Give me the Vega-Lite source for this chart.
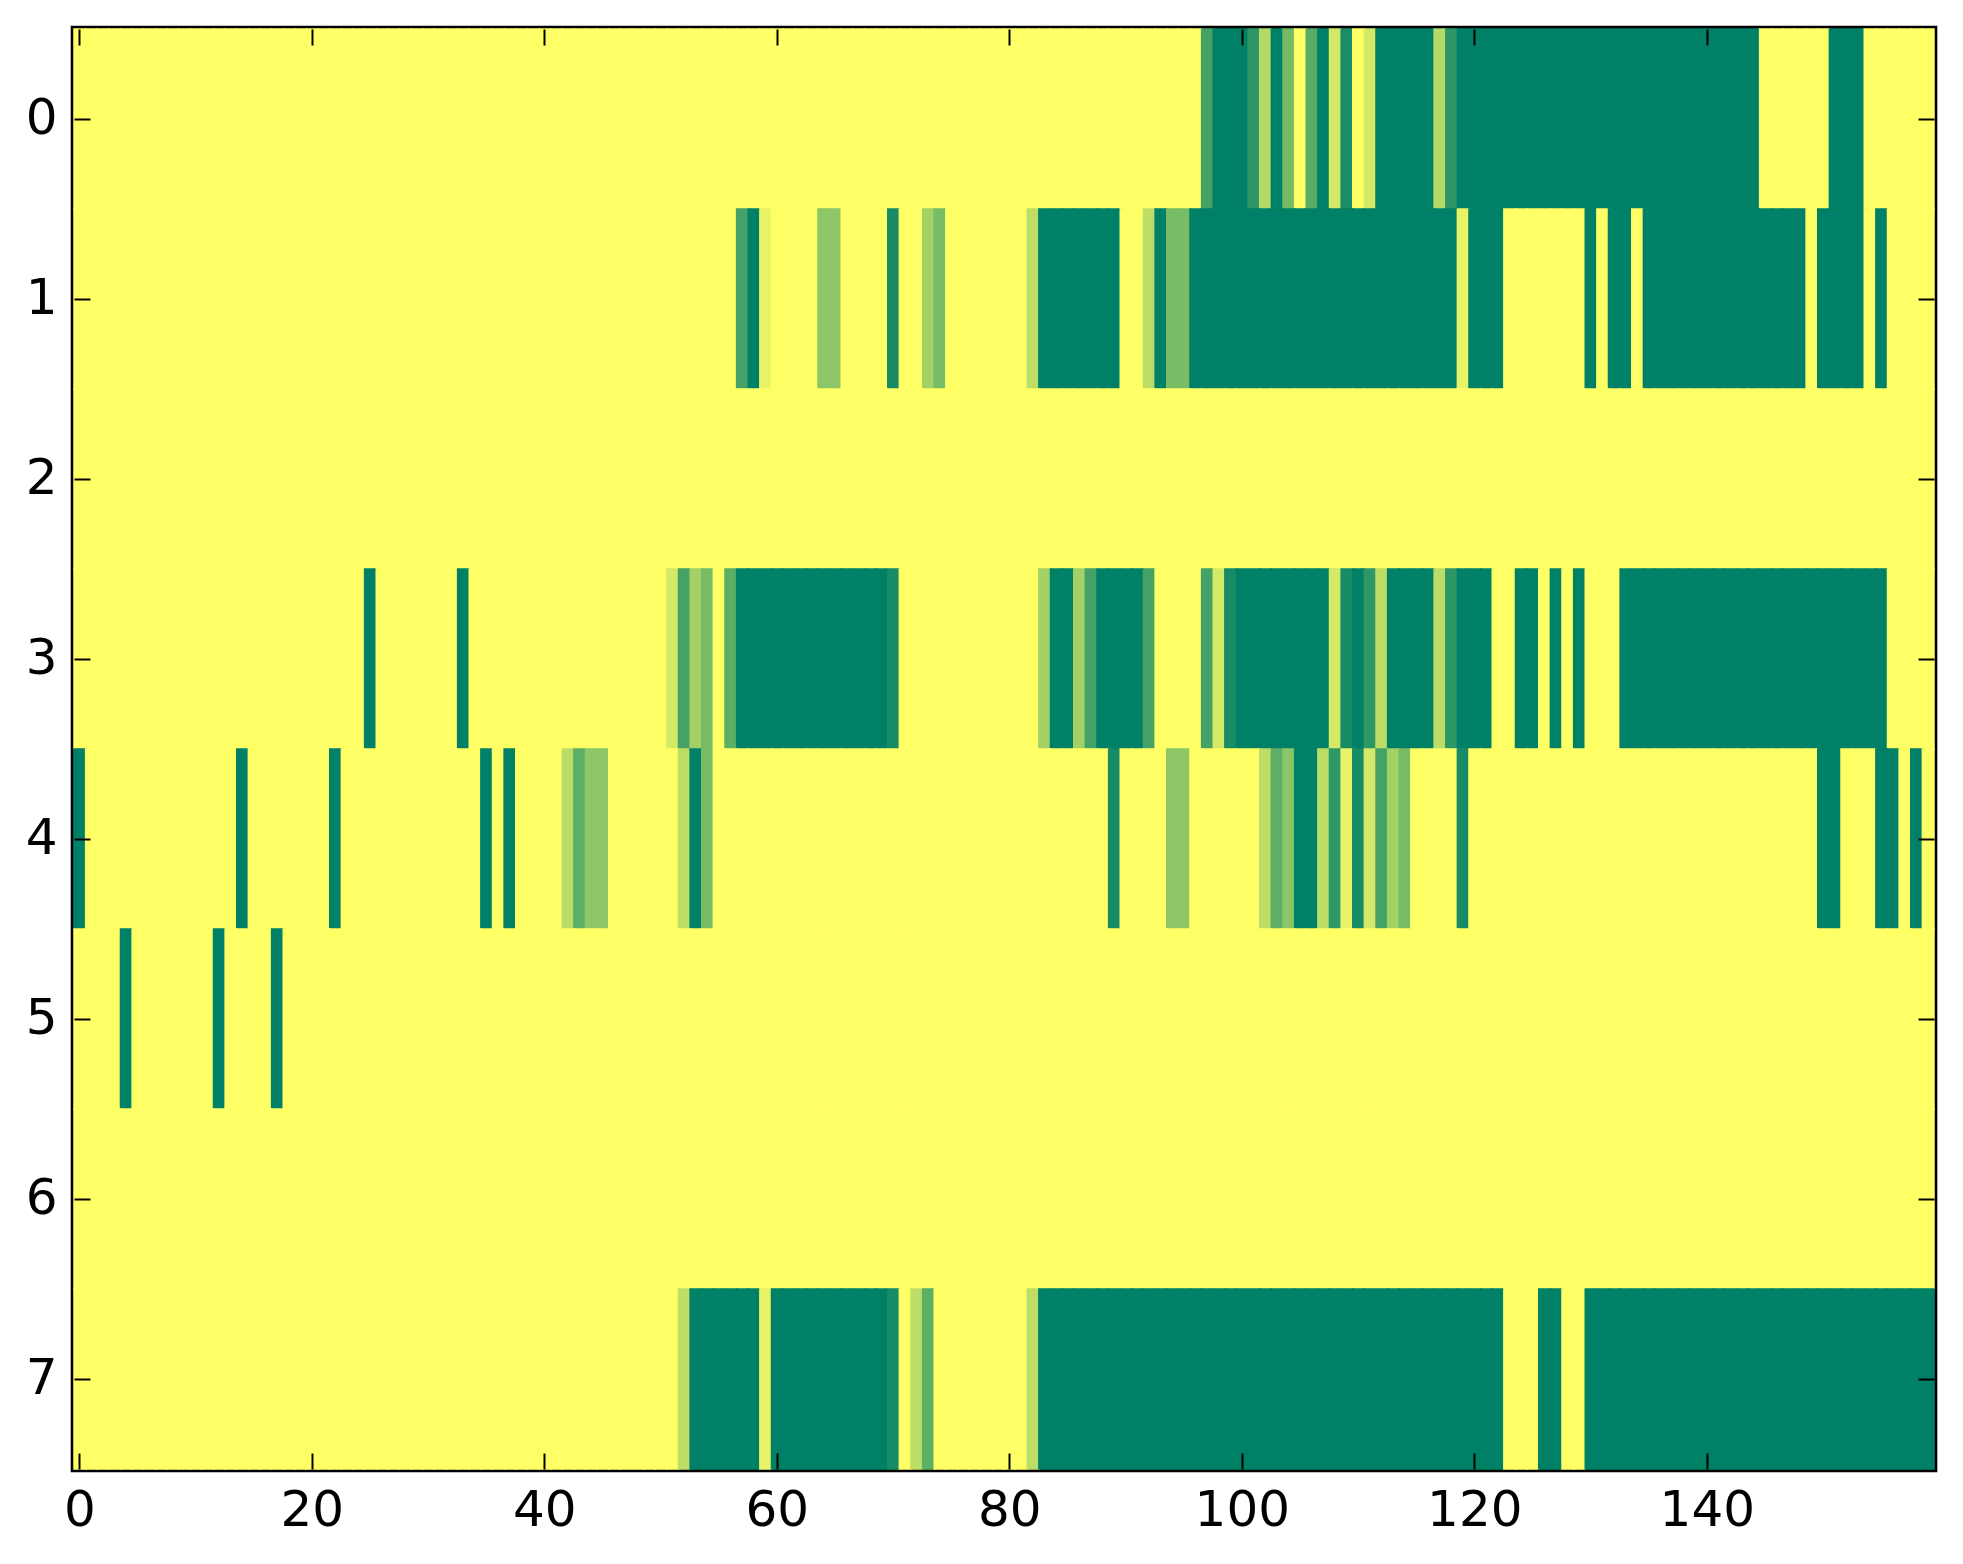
{
  "$schema": "https://vega.github.io/schema/vega-lite/v6.json",
  "width": 1860,
  "height": 1440,
  "autosize": "none",
  "padding": {"left": 74, "top": 29, "right": 29, "bottom": 95},
  "background": "white",
  "data": {
    "values": [
{"r":0,"c":0,"v":0},{"r":0,"c":1,"v":0},{"r":0,"c":2,"v":0},{"r":0,"c":3,"v":0},{"r":0,"c":4,"v":0},{"r":0,"c":5,"v":0},{"r":0,"c":6,"v":0},{"r":0,"c":7,"v":0},{"r":0,"c":8,"v":0},{"r":0,"c":9,"v":0},
{"r":0,"c":10,"v":0},{"r":0,"c":11,"v":0},{"r":0,"c":12,"v":0},{"r":0,"c":13,"v":0},{"r":0,"c":14,"v":0},{"r":0,"c":15,"v":0},{"r":0,"c":16,"v":0},{"r":0,"c":17,"v":0},{"r":0,"c":18,"v":0},{"r":0,"c":19,"v":0},
{"r":0,"c":20,"v":0},{"r":0,"c":21,"v":0},{"r":0,"c":22,"v":0},{"r":0,"c":23,"v":0},{"r":0,"c":24,"v":0},{"r":0,"c":25,"v":0},{"r":0,"c":26,"v":0},{"r":0,"c":27,"v":0},{"r":0,"c":28,"v":0},{"r":0,"c":29,"v":0},
{"r":0,"c":30,"v":0},{"r":0,"c":31,"v":0},{"r":0,"c":32,"v":0},{"r":0,"c":33,"v":0},{"r":0,"c":34,"v":0},{"r":0,"c":35,"v":0},{"r":0,"c":36,"v":0},{"r":0,"c":37,"v":0},{"r":0,"c":38,"v":0},{"r":0,"c":39,"v":0},
{"r":0,"c":40,"v":0},{"r":0,"c":41,"v":0},{"r":0,"c":42,"v":0},{"r":0,"c":43,"v":0},{"r":0,"c":44,"v":0},{"r":0,"c":45,"v":0},{"r":0,"c":46,"v":0},{"r":0,"c":47,"v":0},{"r":0,"c":48,"v":0},{"r":0,"c":49,"v":0},
{"r":0,"c":50,"v":0},{"r":0,"c":51,"v":0},{"r":0,"c":52,"v":0},{"r":0,"c":53,"v":0},{"r":0,"c":54,"v":0},{"r":0,"c":55,"v":0},{"r":0,"c":56,"v":0},{"r":0,"c":57,"v":0},{"r":0,"c":58,"v":0},{"r":0,"c":59,"v":0},
{"r":0,"c":60,"v":0},{"r":0,"c":61,"v":0},{"r":0,"c":62,"v":0},{"r":0,"c":63,"v":0},{"r":0,"c":64,"v":0},{"r":0,"c":65,"v":0},{"r":0,"c":66,"v":0},{"r":0,"c":67,"v":0},{"r":0,"c":68,"v":0},{"r":0,"c":69,"v":0},
{"r":0,"c":70,"v":0},{"r":0,"c":71,"v":0},{"r":0,"c":72,"v":0},{"r":0,"c":73,"v":0},{"r":0,"c":74,"v":0},{"r":0,"c":75,"v":0},{"r":0,"c":76,"v":0},{"r":0,"c":77,"v":0},{"r":0,"c":78,"v":0},{"r":0,"c":79,"v":0},
{"r":0,"c":80,"v":0},{"r":0,"c":81,"v":0},{"r":0,"c":82,"v":0},{"r":0,"c":83,"v":0},{"r":0,"c":84,"v":0},{"r":0,"c":85,"v":0},{"r":0,"c":86,"v":0},{"r":0,"c":87,"v":0},{"r":0,"c":88,"v":0},{"r":0,"c":89,"v":0},
{"r":0,"c":90,"v":0},{"r":0,"c":91,"v":0},{"r":0,"c":92,"v":0},{"r":0,"c":93,"v":0},{"r":0,"c":94,"v":0},{"r":0,"c":95,"v":0},{"r":0,"c":96,"v":0},{"r":0,"c":97,"v":0.73},{"r":0,"c":98,"v":1},{"r":0,"c":99,"v":1},
{"r":0,"c":100,"v":1},{"r":0,"c":101,"v":0.82},{"r":0,"c":102,"v":0.29},{"r":0,"c":103,"v":1},{"r":0,"c":104,"v":0.55},{"r":0,"c":105,"v":0},{"r":0,"c":106,"v":0.65},{"r":0,"c":107,"v":1},{"r":0,"c":108,"v":0.17},{"r":0,"c":109,"v":0.9},
{"r":0,"c":110,"v":0},{"r":0,"c":111,"v":0.17},{"r":0,"c":112,"v":1},{"r":0,"c":113,"v":1},{"r":0,"c":114,"v":1},{"r":0,"c":115,"v":1},{"r":0,"c":116,"v":1},{"r":0,"c":117,"v":0.29},{"r":0,"c":118,"v":0.82},{"r":0,"c":119,"v":1},
{"r":0,"c":120,"v":1},{"r":0,"c":121,"v":1},{"r":0,"c":122,"v":1},{"r":0,"c":123,"v":1},{"r":0,"c":124,"v":1},{"r":0,"c":125,"v":1},{"r":0,"c":126,"v":1},{"r":0,"c":127,"v":1},{"r":0,"c":128,"v":1},{"r":0,"c":129,"v":1},
{"r":0,"c":130,"v":1},{"r":0,"c":131,"v":1},{"r":0,"c":132,"v":1},{"r":0,"c":133,"v":1},{"r":0,"c":134,"v":1},{"r":0,"c":135,"v":1},{"r":0,"c":136,"v":1},{"r":0,"c":137,"v":1},{"r":0,"c":138,"v":1},{"r":0,"c":139,"v":1},
{"r":0,"c":140,"v":1},{"r":0,"c":141,"v":1},{"r":0,"c":142,"v":1},{"r":0,"c":143,"v":1},{"r":0,"c":144,"v":1},{"r":0,"c":145,"v":0},{"r":0,"c":146,"v":0},{"r":0,"c":147,"v":0},{"r":0,"c":148,"v":0},{"r":0,"c":149,"v":0},
{"r":0,"c":150,"v":0},{"r":0,"c":151,"v":1},{"r":0,"c":152,"v":1},{"r":0,"c":153,"v":1},{"r":0,"c":154,"v":0},{"r":0,"c":155,"v":0},{"r":0,"c":156,"v":0},{"r":0,"c":157,"v":0},{"r":0,"c":158,"v":0},{"r":0,"c":159,"v":0},
{"r":1,"c":0,"v":0},{"r":1,"c":1,"v":0},{"r":1,"c":2,"v":0},{"r":1,"c":3,"v":0},{"r":1,"c":4,"v":0},{"r":1,"c":5,"v":0},{"r":1,"c":6,"v":0},{"r":1,"c":7,"v":0},{"r":1,"c":8,"v":0},{"r":1,"c":9,"v":0},
{"r":1,"c":10,"v":0},{"r":1,"c":11,"v":0},{"r":1,"c":12,"v":0},{"r":1,"c":13,"v":0},{"r":1,"c":14,"v":0},{"r":1,"c":15,"v":0},{"r":1,"c":16,"v":0},{"r":1,"c":17,"v":0},{"r":1,"c":18,"v":0},{"r":1,"c":19,"v":0},
{"r":1,"c":20,"v":0},{"r":1,"c":21,"v":0},{"r":1,"c":22,"v":0},{"r":1,"c":23,"v":0},{"r":1,"c":24,"v":0},{"r":1,"c":25,"v":0},{"r":1,"c":26,"v":0},{"r":1,"c":27,"v":0},{"r":1,"c":28,"v":0},{"r":1,"c":29,"v":0},
{"r":1,"c":30,"v":0},{"r":1,"c":31,"v":0},{"r":1,"c":32,"v":0},{"r":1,"c":33,"v":0},{"r":1,"c":34,"v":0},{"r":1,"c":35,"v":0},{"r":1,"c":36,"v":0},{"r":1,"c":37,"v":0},{"r":1,"c":38,"v":0},{"r":1,"c":39,"v":0},
{"r":1,"c":40,"v":0},{"r":1,"c":41,"v":0},{"r":1,"c":42,"v":0},{"r":1,"c":43,"v":0},{"r":1,"c":44,"v":0},{"r":1,"c":45,"v":0},{"r":1,"c":46,"v":0},{"r":1,"c":47,"v":0},{"r":1,"c":48,"v":0},{"r":1,"c":49,"v":0},
{"r":1,"c":50,"v":0},{"r":1,"c":51,"v":0},{"r":1,"c":52,"v":0},{"r":1,"c":53,"v":0},{"r":1,"c":54,"v":0},{"r":1,"c":55,"v":0},{"r":1,"c":56,"v":0},{"r":1,"c":57,"v":0.73},{"r":1,"c":58,"v":1},{"r":1,"c":59,"v":0.09},
{"r":1,"c":60,"v":0},{"r":1,"c":61,"v":0},{"r":1,"c":62,"v":0},{"r":1,"c":63,"v":0},{"r":1,"c":64,"v":0.45},{"r":1,"c":65,"v":0.45},{"r":1,"c":66,"v":0},{"r":1,"c":67,"v":0},{"r":1,"c":68,"v":0},{"r":1,"c":69,"v":0},
{"r":1,"c":70,"v":0.91},{"r":1,"c":71,"v":0},{"r":1,"c":72,"v":0},{"r":1,"c":73,"v":0.36},{"r":1,"c":74,"v":0.53},{"r":1,"c":75,"v":0},{"r":1,"c":76,"v":0},{"r":1,"c":77,"v":0},{"r":1,"c":78,"v":0},{"r":1,"c":79,"v":0},
{"r":1,"c":80,"v":0},{"r":1,"c":81,"v":0},{"r":1,"c":82,"v":0.26},{"r":1,"c":83,"v":1},{"r":1,"c":84,"v":1},{"r":1,"c":85,"v":1},{"r":1,"c":86,"v":1},{"r":1,"c":87,"v":1},{"r":1,"c":88,"v":1},{"r":1,"c":89,"v":1},
{"r":1,"c":90,"v":0},{"r":1,"c":91,"v":0},{"r":1,"c":92,"v":0.26},{"r":1,"c":93,"v":1},{"r":1,"c":94,"v":0.53},{"r":1,"c":95,"v":0.53},{"r":1,"c":96,"v":1},{"r":1,"c":97,"v":1},{"r":1,"c":98,"v":1},{"r":1,"c":99,"v":1},
{"r":1,"c":100,"v":1},{"r":1,"c":101,"v":1},{"r":1,"c":102,"v":1},{"r":1,"c":103,"v":1},{"r":1,"c":104,"v":1},{"r":1,"c":105,"v":1},{"r":1,"c":106,"v":1},{"r":1,"c":107,"v":1},{"r":1,"c":108,"v":1},{"r":1,"c":109,"v":1},
{"r":1,"c":110,"v":1},{"r":1,"c":111,"v":1},{"r":1,"c":112,"v":1},{"r":1,"c":113,"v":1},{"r":1,"c":114,"v":1},{"r":1,"c":115,"v":1},{"r":1,"c":116,"v":1},{"r":1,"c":117,"v":1},{"r":1,"c":118,"v":1},{"r":1,"c":119,"v":0.09},
{"r":1,"c":120,"v":1},{"r":1,"c":121,"v":1},{"r":1,"c":122,"v":1},{"r":1,"c":123,"v":0},{"r":1,"c":124,"v":0},{"r":1,"c":125,"v":0},{"r":1,"c":126,"v":0},{"r":1,"c":127,"v":0},{"r":1,"c":128,"v":0},{"r":1,"c":129,"v":0},
{"r":1,"c":130,"v":1},{"r":1,"c":131,"v":0},{"r":1,"c":132,"v":1},{"r":1,"c":133,"v":1},{"r":1,"c":134,"v":0},{"r":1,"c":135,"v":1},{"r":1,"c":136,"v":1},{"r":1,"c":137,"v":1},{"r":1,"c":138,"v":1},{"r":1,"c":139,"v":1},
{"r":1,"c":140,"v":1},{"r":1,"c":141,"v":1},{"r":1,"c":142,"v":1},{"r":1,"c":143,"v":1},{"r":1,"c":144,"v":1},{"r":1,"c":145,"v":1},{"r":1,"c":146,"v":1},{"r":1,"c":147,"v":1},{"r":1,"c":148,"v":1},{"r":1,"c":149,"v":0},
{"r":1,"c":150,"v":1},{"r":1,"c":151,"v":1},{"r":1,"c":152,"v":1},{"r":1,"c":153,"v":1},{"r":1,"c":154,"v":0},{"r":1,"c":155,"v":1},{"r":1,"c":156,"v":0},{"r":1,"c":157,"v":0},{"r":1,"c":158,"v":0},{"r":1,"c":159,"v":0},
{"r":2,"c":0,"v":0},{"r":2,"c":1,"v":0},{"r":2,"c":2,"v":0},{"r":2,"c":3,"v":0},{"r":2,"c":4,"v":0},{"r":2,"c":5,"v":0},{"r":2,"c":6,"v":0},{"r":2,"c":7,"v":0},{"r":2,"c":8,"v":0},{"r":2,"c":9,"v":0},
{"r":2,"c":10,"v":0},{"r":2,"c":11,"v":0},{"r":2,"c":12,"v":0},{"r":2,"c":13,"v":0},{"r":2,"c":14,"v":0},{"r":2,"c":15,"v":0},{"r":2,"c":16,"v":0},{"r":2,"c":17,"v":0},{"r":2,"c":18,"v":0},{"r":2,"c":19,"v":0},
{"r":2,"c":20,"v":0},{"r":2,"c":21,"v":0},{"r":2,"c":22,"v":0},{"r":2,"c":23,"v":0},{"r":2,"c":24,"v":0},{"r":2,"c":25,"v":0},{"r":2,"c":26,"v":0},{"r":2,"c":27,"v":0},{"r":2,"c":28,"v":0},{"r":2,"c":29,"v":0},
{"r":2,"c":30,"v":0},{"r":2,"c":31,"v":0},{"r":2,"c":32,"v":0},{"r":2,"c":33,"v":0},{"r":2,"c":34,"v":0},{"r":2,"c":35,"v":0},{"r":2,"c":36,"v":0},{"r":2,"c":37,"v":0},{"r":2,"c":38,"v":0},{"r":2,"c":39,"v":0},
{"r":2,"c":40,"v":0},{"r":2,"c":41,"v":0},{"r":2,"c":42,"v":0},{"r":2,"c":43,"v":0},{"r":2,"c":44,"v":0},{"r":2,"c":45,"v":0},{"r":2,"c":46,"v":0},{"r":2,"c":47,"v":0},{"r":2,"c":48,"v":0},{"r":2,"c":49,"v":0},
{"r":2,"c":50,"v":0},{"r":2,"c":51,"v":0},{"r":2,"c":52,"v":0},{"r":2,"c":53,"v":0},{"r":2,"c":54,"v":0},{"r":2,"c":55,"v":0},{"r":2,"c":56,"v":0},{"r":2,"c":57,"v":0},{"r":2,"c":58,"v":0},{"r":2,"c":59,"v":0},
{"r":2,"c":60,"v":0},{"r":2,"c":61,"v":0},{"r":2,"c":62,"v":0},{"r":2,"c":63,"v":0},{"r":2,"c":64,"v":0},{"r":2,"c":65,"v":0},{"r":2,"c":66,"v":0},{"r":2,"c":67,"v":0},{"r":2,"c":68,"v":0},{"r":2,"c":69,"v":0},
{"r":2,"c":70,"v":0},{"r":2,"c":71,"v":0},{"r":2,"c":72,"v":0},{"r":2,"c":73,"v":0},{"r":2,"c":74,"v":0},{"r":2,"c":75,"v":0},{"r":2,"c":76,"v":0},{"r":2,"c":77,"v":0},{"r":2,"c":78,"v":0},{"r":2,"c":79,"v":0},
{"r":2,"c":80,"v":0},{"r":2,"c":81,"v":0},{"r":2,"c":82,"v":0},{"r":2,"c":83,"v":0},{"r":2,"c":84,"v":0},{"r":2,"c":85,"v":0},{"r":2,"c":86,"v":0},{"r":2,"c":87,"v":0},{"r":2,"c":88,"v":0},{"r":2,"c":89,"v":0},
{"r":2,"c":90,"v":0},{"r":2,"c":91,"v":0},{"r":2,"c":92,"v":0},{"r":2,"c":93,"v":0},{"r":2,"c":94,"v":0},{"r":2,"c":95,"v":0},{"r":2,"c":96,"v":0},{"r":2,"c":97,"v":0},{"r":2,"c":98,"v":0},{"r":2,"c":99,"v":0},
{"r":2,"c":100,"v":0},{"r":2,"c":101,"v":0},{"r":2,"c":102,"v":0},{"r":2,"c":103,"v":0},{"r":2,"c":104,"v":0},{"r":2,"c":105,"v":0},{"r":2,"c":106,"v":0},{"r":2,"c":107,"v":0},{"r":2,"c":108,"v":0},{"r":2,"c":109,"v":0},
{"r":2,"c":110,"v":0},{"r":2,"c":111,"v":0},{"r":2,"c":112,"v":0},{"r":2,"c":113,"v":0},{"r":2,"c":114,"v":0},{"r":2,"c":115,"v":0},{"r":2,"c":116,"v":0},{"r":2,"c":117,"v":0},{"r":2,"c":118,"v":0},{"r":2,"c":119,"v":0},
{"r":2,"c":120,"v":0},{"r":2,"c":121,"v":0},{"r":2,"c":122,"v":0},{"r":2,"c":123,"v":0},{"r":2,"c":124,"v":0},{"r":2,"c":125,"v":0},{"r":2,"c":126,"v":0},{"r":2,"c":127,"v":0},{"r":2,"c":128,"v":0},{"r":2,"c":129,"v":0},
{"r":2,"c":130,"v":0},{"r":2,"c":131,"v":0},{"r":2,"c":132,"v":0},{"r":2,"c":133,"v":0},{"r":2,"c":134,"v":0},{"r":2,"c":135,"v":0},{"r":2,"c":136,"v":0},{"r":2,"c":137,"v":0},{"r":2,"c":138,"v":0},{"r":2,"c":139,"v":0},
{"r":2,"c":140,"v":0},{"r":2,"c":141,"v":0},{"r":2,"c":142,"v":0},{"r":2,"c":143,"v":0},{"r":2,"c":144,"v":0},{"r":2,"c":145,"v":0},{"r":2,"c":146,"v":0},{"r":2,"c":147,"v":0},{"r":2,"c":148,"v":0},{"r":2,"c":149,"v":0},
{"r":2,"c":150,"v":0},{"r":2,"c":151,"v":0},{"r":2,"c":152,"v":0},{"r":2,"c":153,"v":0},{"r":2,"c":154,"v":0},{"r":2,"c":155,"v":0},{"r":2,"c":156,"v":0},{"r":2,"c":157,"v":0},{"r":2,"c":158,"v":0},{"r":2,"c":159,"v":0},
{"r":3,"c":0,"v":0},{"r":3,"c":1,"v":0},{"r":3,"c":2,"v":0},{"r":3,"c":3,"v":0},{"r":3,"c":4,"v":0},{"r":3,"c":5,"v":0},{"r":3,"c":6,"v":0},{"r":3,"c":7,"v":0},{"r":3,"c":8,"v":0},{"r":3,"c":9,"v":0},
{"r":3,"c":10,"v":0},{"r":3,"c":11,"v":0},{"r":3,"c":12,"v":0},{"r":3,"c":13,"v":0},{"r":3,"c":14,"v":0},{"r":3,"c":15,"v":0},{"r":3,"c":16,"v":0},{"r":3,"c":17,"v":0},{"r":3,"c":18,"v":0},{"r":3,"c":19,"v":0},
{"r":3,"c":20,"v":0},{"r":3,"c":21,"v":0},{"r":3,"c":22,"v":0},{"r":3,"c":23,"v":0},{"r":3,"c":24,"v":0},{"r":3,"c":25,"v":1},{"r":3,"c":26,"v":0},{"r":3,"c":27,"v":0},{"r":3,"c":28,"v":0},{"r":3,"c":29,"v":0},
{"r":3,"c":30,"v":0},{"r":3,"c":31,"v":0},{"r":3,"c":32,"v":0},{"r":3,"c":33,"v":1},{"r":3,"c":34,"v":0},{"r":3,"c":35,"v":0},{"r":3,"c":36,"v":0},{"r":3,"c":37,"v":0},{"r":3,"c":38,"v":0},{"r":3,"c":39,"v":0},
{"r":3,"c":40,"v":0},{"r":3,"c":41,"v":0},{"r":3,"c":42,"v":0},{"r":3,"c":43,"v":0},{"r":3,"c":44,"v":0},{"r":3,"c":45,"v":0},{"r":3,"c":46,"v":0},{"r":3,"c":47,"v":0},{"r":3,"c":48,"v":0},{"r":3,"c":49,"v":0},
{"r":3,"c":50,"v":0},{"r":3,"c":51,"v":0.17},{"r":3,"c":52,"v":0.73},{"r":3,"c":53,"v":0.36},{"r":3,"c":54,"v":0.53},{"r":3,"c":55,"v":0},{"r":3,"c":56,"v":0.63},{"r":3,"c":57,"v":1},{"r":3,"c":58,"v":1},{"r":3,"c":59,"v":1},
{"r":3,"c":60,"v":1},{"r":3,"c":61,"v":1},{"r":3,"c":62,"v":1},{"r":3,"c":63,"v":1},{"r":3,"c":64,"v":1},{"r":3,"c":65,"v":1},{"r":3,"c":66,"v":1},{"r":3,"c":67,"v":1},{"r":3,"c":68,"v":1},{"r":3,"c":69,"v":1},
{"r":3,"c":70,"v":0.91},{"r":3,"c":71,"v":0},{"r":3,"c":72,"v":0},{"r":3,"c":73,"v":0},{"r":3,"c":74,"v":0},{"r":3,"c":75,"v":0},{"r":3,"c":76,"v":0},{"r":3,"c":77,"v":0},{"r":3,"c":78,"v":0},{"r":3,"c":79,"v":0},
{"r":3,"c":80,"v":0},{"r":3,"c":81,"v":0},{"r":3,"c":82,"v":0},{"r":3,"c":83,"v":0.36},{"r":3,"c":84,"v":1},{"r":3,"c":85,"v":1},{"r":3,"c":86,"v":0.36},{"r":3,"c":87,"v":0.73},{"r":3,"c":88,"v":1},{"r":3,"c":89,"v":1},
{"r":3,"c":90,"v":1},{"r":3,"c":91,"v":1},{"r":3,"c":92,"v":0.73},{"r":3,"c":93,"v":0},{"r":3,"c":94,"v":0},{"r":3,"c":95,"v":0},{"r":3,"c":96,"v":0},{"r":3,"c":97,"v":0.73},{"r":3,"c":98,"v":0.17},{"r":3,"c":99,"v":0.91},
{"r":3,"c":100,"v":1},{"r":3,"c":101,"v":1},{"r":3,"c":102,"v":1},{"r":3,"c":103,"v":1},{"r":3,"c":104,"v":1},{"r":3,"c":105,"v":1},{"r":3,"c":106,"v":1},{"r":3,"c":107,"v":1},{"r":3,"c":108,"v":0.17},{"r":3,"c":109,"v":0.91},
{"r":3,"c":110,"v":1},{"r":3,"c":111,"v":0.82},{"r":3,"c":112,"v":0.26},{"r":3,"c":113,"v":1},{"r":3,"c":114,"v":1},{"r":3,"c":115,"v":1},{"r":3,"c":116,"v":1},{"r":3,"c":117,"v":0.26},{"r":3,"c":118,"v":0.82},{"r":3,"c":119,"v":1},
{"r":3,"c":120,"v":1},{"r":3,"c":121,"v":1},{"r":3,"c":122,"v":0},{"r":3,"c":123,"v":0},{"r":3,"c":124,"v":1},{"r":3,"c":125,"v":1},{"r":3,"c":126,"v":0},{"r":3,"c":127,"v":1},{"r":3,"c":128,"v":0},{"r":3,"c":129,"v":1},
{"r":3,"c":130,"v":0},{"r":3,"c":131,"v":0},{"r":3,"c":132,"v":0},{"r":3,"c":133,"v":1},{"r":3,"c":134,"v":1},{"r":3,"c":135,"v":1},{"r":3,"c":136,"v":1},{"r":3,"c":137,"v":1},{"r":3,"c":138,"v":1},{"r":3,"c":139,"v":1},
{"r":3,"c":140,"v":1},{"r":3,"c":141,"v":1},{"r":3,"c":142,"v":1},{"r":3,"c":143,"v":1},{"r":3,"c":144,"v":1},{"r":3,"c":145,"v":1},{"r":3,"c":146,"v":1},{"r":3,"c":147,"v":1},{"r":3,"c":148,"v":1},{"r":3,"c":149,"v":1},
{"r":3,"c":150,"v":1},{"r":3,"c":151,"v":1},{"r":3,"c":152,"v":1},{"r":3,"c":153,"v":1},{"r":3,"c":154,"v":1},{"r":3,"c":155,"v":1},{"r":3,"c":156,"v":0},{"r":3,"c":157,"v":0},{"r":3,"c":158,"v":0},{"r":3,"c":159,"v":0},
{"r":4,"c":0,"v":1},{"r":4,"c":1,"v":0},{"r":4,"c":2,"v":0},{"r":4,"c":3,"v":0},{"r":4,"c":4,"v":0},{"r":4,"c":5,"v":0},{"r":4,"c":6,"v":0},{"r":4,"c":7,"v":0},{"r":4,"c":8,"v":0},{"r":4,"c":9,"v":0},
{"r":4,"c":10,"v":0},{"r":4,"c":11,"v":0},{"r":4,"c":12,"v":0},{"r":4,"c":13,"v":0},{"r":4,"c":14,"v":1},{"r":4,"c":15,"v":0},{"r":4,"c":16,"v":0},{"r":4,"c":17,"v":0},{"r":4,"c":18,"v":0},{"r":4,"c":19,"v":0},
{"r":4,"c":20,"v":0},{"r":4,"c":21,"v":0},{"r":4,"c":22,"v":1},{"r":4,"c":23,"v":0},{"r":4,"c":24,"v":0},{"r":4,"c":25,"v":0},{"r":4,"c":26,"v":0},{"r":4,"c":27,"v":0},{"r":4,"c":28,"v":0},{"r":4,"c":29,"v":0},
{"r":4,"c":30,"v":0},{"r":4,"c":31,"v":0},{"r":4,"c":32,"v":0},{"r":4,"c":33,"v":0},{"r":4,"c":34,"v":0},{"r":4,"c":35,"v":1},{"r":4,"c":36,"v":0},{"r":4,"c":37,"v":1},{"r":4,"c":38,"v":0},{"r":4,"c":39,"v":0},
{"r":4,"c":40,"v":0},{"r":4,"c":41,"v":0},{"r":4,"c":42,"v":0.26},{"r":4,"c":43,"v":0.63},{"r":4,"c":44,"v":0.45},{"r":4,"c":45,"v":0.45},{"r":4,"c":46,"v":0},{"r":4,"c":47,"v":0},{"r":4,"c":48,"v":0},{"r":4,"c":49,"v":0},
{"r":4,"c":50,"v":0},{"r":4,"c":51,"v":0},{"r":4,"c":52,"v":0.26},{"r":4,"c":53,"v":1},{"r":4,"c":54,"v":0.53},{"r":4,"c":55,"v":0},{"r":4,"c":56,"v":0},{"r":4,"c":57,"v":0},{"r":4,"c":58,"v":0},{"r":4,"c":59,"v":0},
{"r":4,"c":60,"v":0},{"r":4,"c":61,"v":0},{"r":4,"c":62,"v":0},{"r":4,"c":63,"v":0},{"r":4,"c":64,"v":0},{"r":4,"c":65,"v":0},{"r":4,"c":66,"v":0},{"r":4,"c":67,"v":0},{"r":4,"c":68,"v":0},{"r":4,"c":69,"v":0},
{"r":4,"c":70,"v":0},{"r":4,"c":71,"v":0},{"r":4,"c":72,"v":0},{"r":4,"c":73,"v":0},{"r":4,"c":74,"v":0},{"r":4,"c":75,"v":0},{"r":4,"c":76,"v":0},{"r":4,"c":77,"v":0},{"r":4,"c":78,"v":0},{"r":4,"c":79,"v":0},
{"r":4,"c":80,"v":0},{"r":4,"c":81,"v":0},{"r":4,"c":82,"v":0},{"r":4,"c":83,"v":0},{"r":4,"c":84,"v":0},{"r":4,"c":85,"v":0},{"r":4,"c":86,"v":0},{"r":4,"c":87,"v":0},{"r":4,"c":88,"v":0},{"r":4,"c":89,"v":0.91},
{"r":4,"c":90,"v":0},{"r":4,"c":91,"v":0},{"r":4,"c":92,"v":0},{"r":4,"c":93,"v":0},{"r":4,"c":94,"v":0.45},{"r":4,"c":95,"v":0.45},{"r":4,"c":96,"v":0},{"r":4,"c":97,"v":0},{"r":4,"c":98,"v":0},{"r":4,"c":99,"v":0},
{"r":4,"c":100,"v":0},{"r":4,"c":101,"v":0},{"r":4,"c":102,"v":0.26},{"r":4,"c":103,"v":0.63},{"r":4,"c":104,"v":0.45},{"r":4,"c":105,"v":1},{"r":4,"c":106,"v":1},{"r":4,"c":107,"v":0.26},{"r":4,"c":108,"v":0.82},{"r":4,"c":109,"v":0.09},
{"r":4,"c":110,"v":0.91},{"r":4,"c":111,"v":0.17},{"r":4,"c":112,"v":0.73},{"r":4,"c":113,"v":0.36},{"r":4,"c":114,"v":0.53},{"r":4,"c":115,"v":0},{"r":4,"c":116,"v":0},{"r":4,"c":117,"v":0},{"r":4,"c":118,"v":0},{"r":4,"c":119,"v":0.91},
{"r":4,"c":120,"v":0},{"r":4,"c":121,"v":0},{"r":4,"c":122,"v":0},{"r":4,"c":123,"v":0},{"r":4,"c":124,"v":0},{"r":4,"c":125,"v":0},{"r":4,"c":126,"v":0},{"r":4,"c":127,"v":0},{"r":4,"c":128,"v":0},{"r":4,"c":129,"v":0},
{"r":4,"c":130,"v":0},{"r":4,"c":131,"v":0},{"r":4,"c":132,"v":0},{"r":4,"c":133,"v":0},{"r":4,"c":134,"v":0},{"r":4,"c":135,"v":0},{"r":4,"c":136,"v":0},{"r":4,"c":137,"v":0},{"r":4,"c":138,"v":0},{"r":4,"c":139,"v":0},
{"r":4,"c":140,"v":0},{"r":4,"c":141,"v":0},{"r":4,"c":142,"v":0},{"r":4,"c":143,"v":0},{"r":4,"c":144,"v":0},{"r":4,"c":145,"v":0},{"r":4,"c":146,"v":0},{"r":4,"c":147,"v":0},{"r":4,"c":148,"v":0},{"r":4,"c":149,"v":0},
{"r":4,"c":150,"v":1},{"r":4,"c":151,"v":1},{"r":4,"c":152,"v":0},{"r":4,"c":153,"v":0},{"r":4,"c":154,"v":0},{"r":4,"c":155,"v":1},{"r":4,"c":156,"v":1},{"r":4,"c":157,"v":0},{"r":4,"c":158,"v":1},{"r":4,"c":159,"v":0},
{"r":5,"c":0,"v":0},{"r":5,"c":1,"v":0},{"r":5,"c":2,"v":0},{"r":5,"c":3,"v":0},{"r":5,"c":4,"v":1},{"r":5,"c":5,"v":0},{"r":5,"c":6,"v":0},{"r":5,"c":7,"v":0},{"r":5,"c":8,"v":0},{"r":5,"c":9,"v":0},
{"r":5,"c":10,"v":0},{"r":5,"c":11,"v":0},{"r":5,"c":12,"v":1},{"r":5,"c":13,"v":0},{"r":5,"c":14,"v":0},{"r":5,"c":15,"v":0},{"r":5,"c":16,"v":0},{"r":5,"c":17,"v":1},{"r":5,"c":18,"v":0},{"r":5,"c":19,"v":0},
{"r":5,"c":20,"v":0},{"r":5,"c":21,"v":0},{"r":5,"c":22,"v":0},{"r":5,"c":23,"v":0},{"r":5,"c":24,"v":0},{"r":5,"c":25,"v":0},{"r":5,"c":26,"v":0},{"r":5,"c":27,"v":0},{"r":5,"c":28,"v":0},{"r":5,"c":29,"v":0},
{"r":5,"c":30,"v":0},{"r":5,"c":31,"v":0},{"r":5,"c":32,"v":0},{"r":5,"c":33,"v":0},{"r":5,"c":34,"v":0},{"r":5,"c":35,"v":0},{"r":5,"c":36,"v":0},{"r":5,"c":37,"v":0},{"r":5,"c":38,"v":0},{"r":5,"c":39,"v":0},
{"r":5,"c":40,"v":0},{"r":5,"c":41,"v":0},{"r":5,"c":42,"v":0},{"r":5,"c":43,"v":0},{"r":5,"c":44,"v":0},{"r":5,"c":45,"v":0},{"r":5,"c":46,"v":0},{"r":5,"c":47,"v":0},{"r":5,"c":48,"v":0},{"r":5,"c":49,"v":0},
{"r":5,"c":50,"v":0},{"r":5,"c":51,"v":0},{"r":5,"c":52,"v":0},{"r":5,"c":53,"v":0},{"r":5,"c":54,"v":0},{"r":5,"c":55,"v":0},{"r":5,"c":56,"v":0},{"r":5,"c":57,"v":0},{"r":5,"c":58,"v":0},{"r":5,"c":59,"v":0},
{"r":5,"c":60,"v":0},{"r":5,"c":61,"v":0},{"r":5,"c":62,"v":0},{"r":5,"c":63,"v":0},{"r":5,"c":64,"v":0},{"r":5,"c":65,"v":0},{"r":5,"c":66,"v":0},{"r":5,"c":67,"v":0},{"r":5,"c":68,"v":0},{"r":5,"c":69,"v":0},
{"r":5,"c":70,"v":0},{"r":5,"c":71,"v":0},{"r":5,"c":72,"v":0},{"r":5,"c":73,"v":0},{"r":5,"c":74,"v":0},{"r":5,"c":75,"v":0},{"r":5,"c":76,"v":0},{"r":5,"c":77,"v":0},{"r":5,"c":78,"v":0},{"r":5,"c":79,"v":0},
{"r":5,"c":80,"v":0},{"r":5,"c":81,"v":0},{"r":5,"c":82,"v":0},{"r":5,"c":83,"v":0},{"r":5,"c":84,"v":0},{"r":5,"c":85,"v":0},{"r":5,"c":86,"v":0},{"r":5,"c":87,"v":0},{"r":5,"c":88,"v":0},{"r":5,"c":89,"v":0},
{"r":5,"c":90,"v":0},{"r":5,"c":91,"v":0},{"r":5,"c":92,"v":0},{"r":5,"c":93,"v":0},{"r":5,"c":94,"v":0},{"r":5,"c":95,"v":0},{"r":5,"c":96,"v":0},{"r":5,"c":97,"v":0},{"r":5,"c":98,"v":0},{"r":5,"c":99,"v":0},
{"r":5,"c":100,"v":0},{"r":5,"c":101,"v":0},{"r":5,"c":102,"v":0},{"r":5,"c":103,"v":0},{"r":5,"c":104,"v":0},{"r":5,"c":105,"v":0},{"r":5,"c":106,"v":0},{"r":5,"c":107,"v":0},{"r":5,"c":108,"v":0},{"r":5,"c":109,"v":0},
{"r":5,"c":110,"v":0},{"r":5,"c":111,"v":0},{"r":5,"c":112,"v":0},{"r":5,"c":113,"v":0},{"r":5,"c":114,"v":0},{"r":5,"c":115,"v":0},{"r":5,"c":116,"v":0},{"r":5,"c":117,"v":0},{"r":5,"c":118,"v":0},{"r":5,"c":119,"v":0},
{"r":5,"c":120,"v":0},{"r":5,"c":121,"v":0},{"r":5,"c":122,"v":0},{"r":5,"c":123,"v":0},{"r":5,"c":124,"v":0},{"r":5,"c":125,"v":0},{"r":5,"c":126,"v":0},{"r":5,"c":127,"v":0},{"r":5,"c":128,"v":0},{"r":5,"c":129,"v":0},
{"r":5,"c":130,"v":0},{"r":5,"c":131,"v":0},{"r":5,"c":132,"v":0},{"r":5,"c":133,"v":0},{"r":5,"c":134,"v":0},{"r":5,"c":135,"v":0},{"r":5,"c":136,"v":0},{"r":5,"c":137,"v":0},{"r":5,"c":138,"v":0},{"r":5,"c":139,"v":0},
{"r":5,"c":140,"v":0},{"r":5,"c":141,"v":0},{"r":5,"c":142,"v":0},{"r":5,"c":143,"v":0},{"r":5,"c":144,"v":0},{"r":5,"c":145,"v":0},{"r":5,"c":146,"v":0},{"r":5,"c":147,"v":0},{"r":5,"c":148,"v":0},{"r":5,"c":149,"v":0},
{"r":5,"c":150,"v":0},{"r":5,"c":151,"v":0},{"r":5,"c":152,"v":0},{"r":5,"c":153,"v":0},{"r":5,"c":154,"v":0},{"r":5,"c":155,"v":0},{"r":5,"c":156,"v":0},{"r":5,"c":157,"v":0},{"r":5,"c":158,"v":0},{"r":5,"c":159,"v":0},
{"r":6,"c":0,"v":0},{"r":6,"c":1,"v":0},{"r":6,"c":2,"v":0},{"r":6,"c":3,"v":0},{"r":6,"c":4,"v":0},{"r":6,"c":5,"v":0},{"r":6,"c":6,"v":0},{"r":6,"c":7,"v":0},{"r":6,"c":8,"v":0},{"r":6,"c":9,"v":0},
{"r":6,"c":10,"v":0},{"r":6,"c":11,"v":0},{"r":6,"c":12,"v":0},{"r":6,"c":13,"v":0},{"r":6,"c":14,"v":0},{"r":6,"c":15,"v":0},{"r":6,"c":16,"v":0},{"r":6,"c":17,"v":0},{"r":6,"c":18,"v":0},{"r":6,"c":19,"v":0},
{"r":6,"c":20,"v":0},{"r":6,"c":21,"v":0},{"r":6,"c":22,"v":0},{"r":6,"c":23,"v":0},{"r":6,"c":24,"v":0},{"r":6,"c":25,"v":0},{"r":6,"c":26,"v":0},{"r":6,"c":27,"v":0},{"r":6,"c":28,"v":0},{"r":6,"c":29,"v":0},
{"r":6,"c":30,"v":0},{"r":6,"c":31,"v":0},{"r":6,"c":32,"v":0},{"r":6,"c":33,"v":0},{"r":6,"c":34,"v":0},{"r":6,"c":35,"v":0},{"r":6,"c":36,"v":0},{"r":6,"c":37,"v":0},{"r":6,"c":38,"v":0},{"r":6,"c":39,"v":0},
{"r":6,"c":40,"v":0},{"r":6,"c":41,"v":0},{"r":6,"c":42,"v":0},{"r":6,"c":43,"v":0},{"r":6,"c":44,"v":0},{"r":6,"c":45,"v":0},{"r":6,"c":46,"v":0},{"r":6,"c":47,"v":0},{"r":6,"c":48,"v":0},{"r":6,"c":49,"v":0},
{"r":6,"c":50,"v":0},{"r":6,"c":51,"v":0},{"r":6,"c":52,"v":0},{"r":6,"c":53,"v":0},{"r":6,"c":54,"v":0},{"r":6,"c":55,"v":0},{"r":6,"c":56,"v":0},{"r":6,"c":57,"v":0},{"r":6,"c":58,"v":0},{"r":6,"c":59,"v":0},
{"r":6,"c":60,"v":0},{"r":6,"c":61,"v":0},{"r":6,"c":62,"v":0},{"r":6,"c":63,"v":0},{"r":6,"c":64,"v":0},{"r":6,"c":65,"v":0},{"r":6,"c":66,"v":0},{"r":6,"c":67,"v":0},{"r":6,"c":68,"v":0},{"r":6,"c":69,"v":0},
{"r":6,"c":70,"v":0},{"r":6,"c":71,"v":0},{"r":6,"c":72,"v":0},{"r":6,"c":73,"v":0},{"r":6,"c":74,"v":0},{"r":6,"c":75,"v":0},{"r":6,"c":76,"v":0},{"r":6,"c":77,"v":0},{"r":6,"c":78,"v":0},{"r":6,"c":79,"v":0},
{"r":6,"c":80,"v":0},{"r":6,"c":81,"v":0},{"r":6,"c":82,"v":0},{"r":6,"c":83,"v":0},{"r":6,"c":84,"v":0},{"r":6,"c":85,"v":0},{"r":6,"c":86,"v":0},{"r":6,"c":87,"v":0},{"r":6,"c":88,"v":0},{"r":6,"c":89,"v":0},
{"r":6,"c":90,"v":0},{"r":6,"c":91,"v":0},{"r":6,"c":92,"v":0},{"r":6,"c":93,"v":0},{"r":6,"c":94,"v":0},{"r":6,"c":95,"v":0},{"r":6,"c":96,"v":0},{"r":6,"c":97,"v":0},{"r":6,"c":98,"v":0},{"r":6,"c":99,"v":0},
{"r":6,"c":100,"v":0},{"r":6,"c":101,"v":0},{"r":6,"c":102,"v":0},{"r":6,"c":103,"v":0},{"r":6,"c":104,"v":0},{"r":6,"c":105,"v":0},{"r":6,"c":106,"v":0},{"r":6,"c":107,"v":0},{"r":6,"c":108,"v":0},{"r":6,"c":109,"v":0},
{"r":6,"c":110,"v":0},{"r":6,"c":111,"v":0},{"r":6,"c":112,"v":0},{"r":6,"c":113,"v":0},{"r":6,"c":114,"v":0},{"r":6,"c":115,"v":0},{"r":6,"c":116,"v":0},{"r":6,"c":117,"v":0},{"r":6,"c":118,"v":0},{"r":6,"c":119,"v":0},
{"r":6,"c":120,"v":0},{"r":6,"c":121,"v":0},{"r":6,"c":122,"v":0},{"r":6,"c":123,"v":0},{"r":6,"c":124,"v":0},{"r":6,"c":125,"v":0},{"r":6,"c":126,"v":0},{"r":6,"c":127,"v":0},{"r":6,"c":128,"v":0},{"r":6,"c":129,"v":0},
{"r":6,"c":130,"v":0},{"r":6,"c":131,"v":0},{"r":6,"c":132,"v":0},{"r":6,"c":133,"v":0},{"r":6,"c":134,"v":0},{"r":6,"c":135,"v":0},{"r":6,"c":136,"v":0},{"r":6,"c":137,"v":0},{"r":6,"c":138,"v":0},{"r":6,"c":139,"v":0},
{"r":6,"c":140,"v":0},{"r":6,"c":141,"v":0},{"r":6,"c":142,"v":0},{"r":6,"c":143,"v":0},{"r":6,"c":144,"v":0},{"r":6,"c":145,"v":0},{"r":6,"c":146,"v":0},{"r":6,"c":147,"v":0},{"r":6,"c":148,"v":0},{"r":6,"c":149,"v":0},
{"r":6,"c":150,"v":0},{"r":6,"c":151,"v":0},{"r":6,"c":152,"v":0},{"r":6,"c":153,"v":0},{"r":6,"c":154,"v":0},{"r":6,"c":155,"v":0},{"r":6,"c":156,"v":0},{"r":6,"c":157,"v":0},{"r":6,"c":158,"v":0},{"r":6,"c":159,"v":0},
{"r":7,"c":0,"v":0},{"r":7,"c":1,"v":0},{"r":7,"c":2,"v":0},{"r":7,"c":3,"v":0},{"r":7,"c":4,"v":0},{"r":7,"c":5,"v":0},{"r":7,"c":6,"v":0},{"r":7,"c":7,"v":0},{"r":7,"c":8,"v":0},{"r":7,"c":9,"v":0},
{"r":7,"c":10,"v":0},{"r":7,"c":11,"v":0},{"r":7,"c":12,"v":0},{"r":7,"c":13,"v":0},{"r":7,"c":14,"v":0},{"r":7,"c":15,"v":0},{"r":7,"c":16,"v":0},{"r":7,"c":17,"v":0},{"r":7,"c":18,"v":0},{"r":7,"c":19,"v":0},
{"r":7,"c":20,"v":0},{"r":7,"c":21,"v":0},{"r":7,"c":22,"v":0},{"r":7,"c":23,"v":0},{"r":7,"c":24,"v":0},{"r":7,"c":25,"v":0},{"r":7,"c":26,"v":0},{"r":7,"c":27,"v":0},{"r":7,"c":28,"v":0},{"r":7,"c":29,"v":0},
{"r":7,"c":30,"v":0},{"r":7,"c":31,"v":0},{"r":7,"c":32,"v":0},{"r":7,"c":33,"v":0},{"r":7,"c":34,"v":0},{"r":7,"c":35,"v":0},{"r":7,"c":36,"v":0},{"r":7,"c":37,"v":0},{"r":7,"c":38,"v":0},{"r":7,"c":39,"v":0},
{"r":7,"c":40,"v":0},{"r":7,"c":41,"v":0},{"r":7,"c":42,"v":0},{"r":7,"c":43,"v":0},{"r":7,"c":44,"v":0},{"r":7,"c":45,"v":0},{"r":7,"c":46,"v":0},{"r":7,"c":47,"v":0},{"r":7,"c":48,"v":0},{"r":7,"c":49,"v":0},
{"r":7,"c":50,"v":0},{"r":7,"c":51,"v":0},{"r":7,"c":52,"v":0.26},{"r":7,"c":53,"v":1},{"r":7,"c":54,"v":1},{"r":7,"c":55,"v":1},{"r":7,"c":56,"v":1},{"r":7,"c":57,"v":1},{"r":7,"c":58,"v":1},{"r":7,"c":59,"v":0.09},
{"r":7,"c":60,"v":1},{"r":7,"c":61,"v":1},{"r":7,"c":62,"v":1},{"r":7,"c":63,"v":1},{"r":7,"c":64,"v":1},{"r":7,"c":65,"v":1},{"r":7,"c":66,"v":1},{"r":7,"c":67,"v":1},{"r":7,"c":68,"v":1},{"r":7,"c":69,"v":1},
{"r":7,"c":70,"v":0.91},{"r":7,"c":71,"v":0},{"r":7,"c":72,"v":0.26},{"r":7,"c":73,"v":0.63},{"r":7,"c":74,"v":0},{"r":7,"c":75,"v":0},{"r":7,"c":76,"v":0},{"r":7,"c":77,"v":0},{"r":7,"c":78,"v":0},{"r":7,"c":79,"v":0},
{"r":7,"c":80,"v":0},{"r":7,"c":81,"v":0},{"r":7,"c":82,"v":0.26},{"r":7,"c":83,"v":1},{"r":7,"c":84,"v":1},{"r":7,"c":85,"v":1},{"r":7,"c":86,"v":1},{"r":7,"c":87,"v":1},{"r":7,"c":88,"v":1},{"r":7,"c":89,"v":1},
{"r":7,"c":90,"v":1},{"r":7,"c":91,"v":1},{"r":7,"c":92,"v":1},{"r":7,"c":93,"v":1},{"r":7,"c":94,"v":1},{"r":7,"c":95,"v":1},{"r":7,"c":96,"v":1},{"r":7,"c":97,"v":1},{"r":7,"c":98,"v":1},{"r":7,"c":99,"v":1},
{"r":7,"c":100,"v":1},{"r":7,"c":101,"v":1},{"r":7,"c":102,"v":1},{"r":7,"c":103,"v":1},{"r":7,"c":104,"v":1},{"r":7,"c":105,"v":1},{"r":7,"c":106,"v":1},{"r":7,"c":107,"v":1},{"r":7,"c":108,"v":1},{"r":7,"c":109,"v":1},
{"r":7,"c":110,"v":1},{"r":7,"c":111,"v":1},{"r":7,"c":112,"v":1},{"r":7,"c":113,"v":1},{"r":7,"c":114,"v":1},{"r":7,"c":115,"v":1},{"r":7,"c":116,"v":1},{"r":7,"c":117,"v":1},{"r":7,"c":118,"v":1},{"r":7,"c":119,"v":1},
{"r":7,"c":120,"v":1},{"r":7,"c":121,"v":1},{"r":7,"c":122,"v":1},{"r":7,"c":123,"v":0},{"r":7,"c":124,"v":0},{"r":7,"c":125,"v":0},{"r":7,"c":126,"v":1},{"r":7,"c":127,"v":1},{"r":7,"c":128,"v":0},{"r":7,"c":129,"v":0},
{"r":7,"c":130,"v":1},{"r":7,"c":131,"v":1},{"r":7,"c":132,"v":1},{"r":7,"c":133,"v":1},{"r":7,"c":134,"v":1},{"r":7,"c":135,"v":1},{"r":7,"c":136,"v":1},{"r":7,"c":137,"v":1},{"r":7,"c":138,"v":1},{"r":7,"c":139,"v":1},
{"r":7,"c":140,"v":1},{"r":7,"c":141,"v":1},{"r":7,"c":142,"v":1},{"r":7,"c":143,"v":1},{"r":7,"c":144,"v":1},{"r":7,"c":145,"v":1},{"r":7,"c":146,"v":1},{"r":7,"c":147,"v":1},{"r":7,"c":148,"v":1},{"r":7,"c":149,"v":1},
{"r":7,"c":150,"v":1},{"r":7,"c":151,"v":1},{"r":7,"c":152,"v":1},{"r":7,"c":153,"v":1},{"r":7,"c":154,"v":1},{"r":7,"c":155,"v":1},{"r":7,"c":156,"v":1},{"r":7,"c":157,"v":1},{"r":7,"c":158,"v":1},{"r":7,"c":159,"v":1}
    ]
  },
  "encoding": {
    "x": {
      "field": "c",
      "type": "ordinal",
      "scale": {"paddingInner": 0, "paddingOuter": 0},
      "axis": {
        "orient": "bottom",
        "values": [0, 20, 40, 60, 80, 100, 120, 140],
        "labelAngle": 0,
        "title": null,
        "domain": false,
        "grid": false,
        "tickSize": -16,
        "tickWidth": 2,
        "tickColor": "black",
        "labelPadding": 32,
        "labelFont": "DejaVu Sans",
        "labelFontSize": 50,
        "labelColor": "black"
      }
    },
    "y": {
      "field": "r",
      "type": "ordinal",
      "scale": {"paddingInner": 0, "paddingOuter": 0},
      "axis": {
        "orient": "left",
        "title": null,
        "domain": false,
        "grid": false,
        "tickSize": -16,
        "tickWidth": 2,
        "tickColor": "black",
        "labelPadding": 33,
        "labelFont": "DejaVu Sans",
        "labelFontSize": 50,
        "labelColor": "black"
      }
    }
  },
  "layer": [
    {
      "mark": {"type": "rect", "strokeWidth": 1.5},
      "encoding": {
        "fill": {
          "field": "v",
          "type": "quantitative",
          "scale": {"domain": [0, 1], "range": ["#ffff66", "#008066"], "interpolate": "rgb"},
          "legend": null
        },
        "stroke": {
          "field": "v",
          "type": "quantitative",
          "scale": {"domain": [0, 1], "range": ["#ffff66", "#008066"], "interpolate": "rgb"},
          "legend": null
        }
      }
    },
    {
      "mark": {"type": "rect", "opacity": 0},
      "encoding": {
        "x": {
          "field": "c",
          "type": "ordinal",
          "axis": {
            "orient": "top",
            "values": [0, 20, 40, 60, 80, 100, 120, 140],
            "labels": false,
            "title": null,
            "domain": false,
            "grid": false,
            "tickSize": -16,
            "tickWidth": 2,
            "tickColor": "black"
          }
        },
        "y": {
          "field": "r",
          "type": "ordinal",
          "axis": {
            "orient": "right",
            "labels": false,
            "title": null,
            "domain": false,
            "grid": false,
            "tickSize": -16,
            "tickWidth": 2,
            "tickColor": "black"
          }
        }
      }
    }
  ],
  "resolve": {"axis": {"x": "independent", "y": "independent"}},
  "config": {
    "view": {"stroke": "black", "strokeWidth": 6.6}
  }
}
